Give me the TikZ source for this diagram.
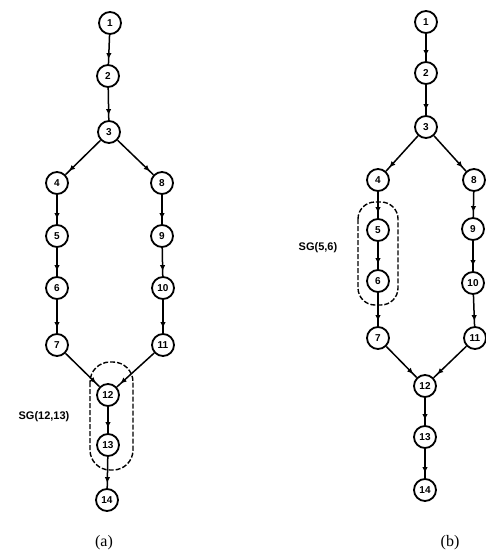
\documentclass[tikz,border=0pt]{standalone}
\usepackage{fontspec}
\setmainfont{Liberation Serif}
\newfontfamily\numfont{Liberation Sans}
\usetikzlibrary{arrows.meta,decorations.markings}
\tikzset{
  vtx/.style={circle,draw,line width=1.8pt,minimum size=22pt,inner sep=0pt,
    font=\numfont\bfseries\fontsize{10}{10}\selectfont},
  edge/.style={line width=1.5pt,postaction={decorate},
    decoration={markings,mark=at position -5pt with {\arrow{Latex[length=6pt,width=5.5pt]}}}},
  sgbox/.style={draw,line width=1.4pt,dash pattern=on 5pt off 2pt},
  sglabel/.style={font=\numfont\bfseries\fontsize{11}{11}\selectfont},
  caption/.style={font=\fontsize{16}{16}\selectfont}
}
\begin{document}
\begin{tikzpicture}[x=1pt,y=-1pt]
\useasboundingbox (0,0) rectangle (486,557);

% ---- graph (a) ----
\node[vtx] (a1) at (110,23) {1};
\node[vtx] (a2) at (108,76) {2};
\node[vtx] (a3) at (109,132) {3};
\node[vtx] (a4) at (57,183) {4};
\node[vtx] (a5) at (57,236) {5};
\node[vtx] (a6) at (57,288) {6};
\node[vtx] (a7) at (57,345) {7};
\node[vtx] (a8) at (162,183) {8};
\node[vtx] (a9) at (162,236) {9};
\node[vtx] (a10) at (163,288) {10};
\node[vtx] (a11) at (163,345) {11};
\node[vtx] (a12) at (108,395) {12};
\node[vtx] (a13) at (108,445) {13};
\node[vtx] (a14) at (107,500) {14};
\foreach \s/\t in {a1/a2,a2/a3,a3/a4,a3/a8,a4/a5,a5/a6,a6/a7,a8/a9,a9/a10,a10/a11,a7/a12,a11/a12,a12/a13,a13/a14}
  \draw[edge] (\s) -- (\t);
\draw[sgbox,rounded corners=20pt] (90,362) rectangle (133,470);
\node[sglabel] (sga) at (44,417) {SG(12,13)};
\node[caption] (capa) at (104,543) {(a)};

% ---- graph (b) ----
\node[vtx] (b1) at (426,22) {1};
\node[vtx] (b2) at (426,73) {2};
\node[vtx] (b3) at (426,127) {3};
\node[vtx] (b4) at (378,180) {4};
\node[vtx] (b5) at (378,230) {5};
\node[vtx] (b6) at (378,281) {6};
\node[vtx] (b7) at (378,338) {7};
\node[vtx] (b8) at (474,180) {8};
\node[vtx] (b9) at (473,229) {9};
\node[vtx] (b10) at (473,283) {10};
\node[vtx] (b11) at (475,338) {11};
\node[vtx] (b12) at (425,386) {12};
\node[vtx] (b13) at (425,437) {13};
\node[vtx] (b14) at (425,490) {14};
\foreach \s/\t in {b1/b2,b2/b3,b3/b4,b3/b8,b4/b5,b5/b6,b6/b7,b8/b9,b9/b10,b10/b11,b7/b12,b11/b12,b12/b13,b13/b14}
  \draw[edge] (\s) -- (\t);
\draw[sgbox,rounded corners=17pt] (358,202) rectangle (398,305);
\node[sglabel] (sgb) at (318,248) {SG(5,6)};
\node[caption] (capb) at (450,543) {(b)};
\end{tikzpicture}
\end{document}
